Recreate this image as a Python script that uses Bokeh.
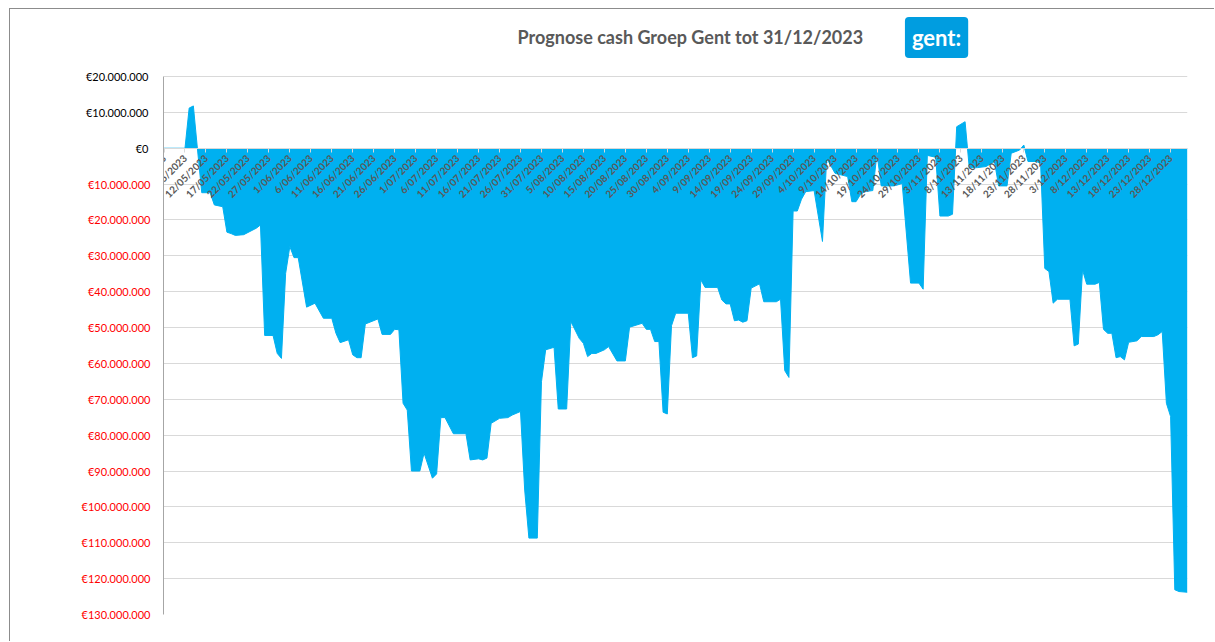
import math
import pandas as pd
from bokeh.plotting import figure
from bokeh.models import Range1d, FixedTicker, LinearAxis, Label, ColumnDataSource
from bokeh.embed import file_html
from bokeh.resources import INLINE

# ---------------- data ----------------
start_date = "2023-05-02"

dates = [
    "2023-05-02", "2023-05-07", "2023-05-08", "2023-05-09", "2023-05-10", "2023-05-11",
    "2023-05-13", "2023-05-14", "2023-05-16", "2023-05-17", "2023-05-18", "2023-05-19",
    "2023-05-21", "2023-05-24", "2023-05-25", "2023-05-26", "2023-05-28", "2023-05-29",
    "2023-05-30", "2023-05-31", "2023-06-01", "2023-06-02", "2023-06-03", "2023-06-05",
    "2023-06-07", "2023-06-09", "2023-06-11", "2023-06-12", "2023-06-13", "2023-06-15",
    "2023-06-16", "2023-06-17", "2023-06-18", "2023-06-19", "2023-06-22", "2023-06-23",
    "2023-06-25", "2023-06-26", "2023-06-27", "2023-06-28", "2023-06-29", "2023-06-30",
    "2023-07-02", "2023-07-03", "2023-07-05", "2023-07-06", "2023-07-07", "2023-07-08",
    "2023-07-10", "2023-07-13", "2023-07-14", "2023-07-16", "2023-07-17", "2023-07-18",
    "2023-07-19", "2023-07-21", "2023-07-23", "2023-07-24", "2023-07-26", "2023-07-27",
    "2023-07-28", "2023-07-30", "2023-07-31", "2023-08-01", "2023-08-03", "2023-08-04",
    "2023-08-06", "2023-08-07", "2023-08-09", "2023-08-10", "2023-08-11", "2023-08-12",
    "2023-08-13", "2023-08-15", "2023-08-16", "2023-08-18", "2023-08-20", "2023-08-21",
    "2023-08-24", "2023-08-25", "2023-08-26", "2023-08-27", "2023-08-28", "2023-08-29",
    "2023-08-30", "2023-08-31", "2023-09-01", "2023-09-04", "2023-09-05", "2023-09-06",
    "2023-09-07", "2023-09-08", "2023-09-11", "2023-09-12", "2023-09-13", "2023-09-14",
    "2023-09-15", "2023-09-16", "2023-09-17", "2023-09-18", "2023-09-19", "2023-09-21",
    "2023-09-22", "2023-09-25", "2023-09-26", "2023-09-27", "2023-09-28", "2023-09-29",
    "2023-09-30", "2023-10-01", "2023-10-02", "2023-10-04", "2023-10-06", "2023-10-07",
    "2023-10-09", "2023-10-12", "2023-10-13", "2023-10-14", "2023-10-15", "2023-10-16",
    "2023-10-18", "2023-10-19", "2023-10-20", "2023-10-23", "2023-10-24", "2023-10-25",
    "2023-10-27", "2023-10-29", "2023-10-30", "2023-10-31", "2023-11-02", "2023-11-03",
    "2023-11-05", "2023-11-06", "2023-11-07", "2023-11-09", "2023-11-10", "2023-11-12",
    "2023-11-14", "2023-11-16", "2023-11-17", "2023-11-19", "2023-11-20", "2023-11-22",
    "2023-11-23", "2023-11-24", "2023-11-26", "2023-11-27", "2023-11-28", "2023-11-29",
    "2023-11-30", "2023-12-01", "2023-12-04", "2023-12-05", "2023-12-06", "2023-12-07",
    "2023-12-08", "2023-12-10", "2023-12-11", "2023-12-12", "2023-12-13", "2023-12-14",
    "2023-12-15", "2023-12-16", "2023-12-17", "2023-12-18", "2023-12-20", "2023-12-21",
    "2023-12-24", "2023-12-25", "2023-12-26", "2023-12-27", "2023-12-28", "2023-12-29",
    "2023-12-30", "2024-01-01",
]

# cash position in millions of euro
cash_meur = [
    0.0, 0.0, 11.2, 11.8, -0.5, -12.4,
    -12.4, -15.8, -16.3, -23.4, -23.8, -24.3,
    -24.1, -22.3, -21.4, -52.2, -52.2, -57.2,
    -58.6, -34.9, -27.4, -30.5, -30.5, -44.3,
    -43.2, -47.4, -47.4, -51.6, -54.2, -53.4,
    -57.6, -58.4, -58.4, -49.0, -47.6, -51.9,
    -51.9, -50.5, -50.6, -71.1, -73.0, -90.0,
    -90.0, -85.0, -92.0, -90.8, -75.1, -75.1,
    -79.6, -79.6, -86.9, -86.6, -86.9, -86.4,
    -76.7, -75.3, -75.1, -74.4, -73.4, -95.3,
    -108.7, -108.7, -65.1, -56.2, -55.5, -72.7,
    -72.7, -48.3, -53.0, -54.4, -58.1, -57.2,
    -57.2, -56.2, -55.3, -59.3, -59.3, -49.9,
    -48.8, -50.5, -50.5, -53.9, -53.9, -73.6,
    -74.1, -49.5, -46.0, -46.0, -58.4, -57.9,
    -36.7, -38.8, -38.8, -42.3, -43.4, -43.4,
    -48.1, -47.9, -48.5, -48.1, -39.0, -37.8,
    -42.8, -42.8, -42.1, -62.0, -63.9, -17.5,
    -17.5, -14.2, -12.1, -11.8, -26.0, -2.8,
    -7.0, -7.9, -14.9, -14.9, -13.0, -12.1,
    -11.8, -1.4, -10.5, -10.5, -10.2, -9.8,
    -37.6, -37.6, -39.3, -2.0, -2.5, -18.9,
    -18.9, -18.4, 6.0, 7.4, -5.5, -5.4,
    -5.1, -3.7, -10.5, -10.5, -1.4, -0.5,
    0.9, -3.7, -3.7, -4.2, -33.5, -34.4,
    -43.2, -42.1, -42.1, -55.1, -54.6, -33.9,
    -37.9, -37.9, -37.4, -50.5, -51.6, -51.6,
    -58.4, -58.1, -59.0, -54.1, -53.7, -52.5,
    -52.5, -52.0, -51.1, -71.1, -74.8, -123.1,
    -123.6, -123.8,
]

# y axis ticks (millions) and their labels
y_ticks = [20, 10, 0, -10, -20, -30, -40, -50, -60, -70, -80, -90, -100, -110, -120, -130]
y_tick_labels = [
    "€20.000.000", "€10.000.000", "€0", "€10.000.000", "€20.000.000", "€30.000.000",
    "€40.000.000", "€50.000.000", "€60.000.000", "€70.000.000", "€80.000.000",
    "€90.000.000", "€100.000.000", "€110.000.000", "€120.000.000", "€130.000.000",
]

# x axis tick dates (every 5 days)
x_tick_dates = pd.date_range("2023-05-02", "2023-12-28", freq="5D")
x_tick_labels = [f"{d.day}/{d.month:02d}/{d.year}" for d in x_tick_dates]

title_text = "Prognose cash Groep Gent tot 31/12/2023"
logo_text = "gent:"

# ---------------- build ----------------
t0 = pd.Timestamp(start_date)
day_index = [(pd.Timestamp(d) - t0).days for d in dates]
x_tick_days = [(d - t0).days for d in x_tick_dates]

src = ColumnDataSource(dict(day=day_index, cash=cash_meur))

Y_MIN, Y_MAX = min(y_ticks), max(y_ticks)
X0, X1 = -0.12, 244.03
TOP = 37.29  # headroom above the top gridline for title and logo

p = figure(width=1205, height=633,
           x_range=Range1d(X0, X1), y_range=Range1d(Y_MIN, TOP),
           output_backend="svg", toolbar_location=None,
           min_border_left=153, min_border_right=28,
           min_border_top=5, min_border_bottom=28)
p.outline_line_color = None
p.background_fill_color = "white"
p.border_fill_color = "white"
p.styles = {"margin-left": "9px", "margin-top": "8px",
            "border-left": "1px solid #8c8c8c", "border-top": "1px solid #8c8c8c"}

p.varea(x="day", y1=0, y2="cash", source=src, fill_color="#00b0f0")
p.line(x="day", y="cash", source=src, line_color="#00b0f0", line_width=1)

# grid
p.xgrid.visible = False
p.ygrid.ticker = FixedTicker(ticks=y_ticks)
p.ygrid.grid_line_color = "#d9d9d9"
p.ygrid.grid_line_width = 1

# x axis at zero
xa = p.xaxis[0]
xa.fixed_location = 0
xa.ticker = FixedTicker(ticks=x_tick_days)
xa.major_label_overrides = {int(d): lab for d, lab in zip(x_tick_days, x_tick_labels)}
xa.major_label_orientation = math.pi / 4
xa.major_label_text_font = "Lato"
xa.major_label_text_font_style = "bold"
xa.major_label_text_font_size = "10px"
xa.major_label_text_color = "#595959"
xa.axis_line_color = "#d9d9d9"
xa.major_tick_line_color = "#d9d9d9"
xa.major_tick_out = 4
xa.major_tick_in = 0
xa.minor_tick_line_color = None
xa.major_label_standoff = 4

neg_ticks = [t for t in y_ticks if t < 0]
pos_ticks = [t for t in y_ticks if t >= 0]
overrides = {t: lab for t, lab in zip(y_ticks, y_tick_labels)}

ya = p.yaxis[0]
ya.bounds = (Y_MIN, Y_MAX)
ya.ticker = FixedTicker(ticks=neg_ticks)
ya.major_label_overrides = {t: overrides[t] for t in neg_ticks}
ya.major_label_text_color = "#ff0000"
ya.major_label_text_font = "Lato"
ya.major_label_text_font_size = "11px"
ya.major_tick_line_color = None
ya.major_tick_out = 0
ya.major_tick_in = 0
ya.minor_tick_line_color = None
ya.minor_tick_out = 0
ya.axis_line_color = "#a6a6a6"
ya.major_label_standoff = 13

ya2 = LinearAxis(ticker=FixedTicker(ticks=pos_ticks),
                 major_label_overrides={t: overrides[t] for t in pos_ticks},
                 major_label_text_color="#000000", major_label_text_font="Lato",
                 major_label_text_font_size="11px", major_tick_line_color=None,
                 major_tick_out=0, major_tick_in=0,
                 minor_tick_line_color=None, minor_tick_out=0, axis_line_color=None,
                 major_label_standoff=-70)
p.add_layout(ya2, "left")

# title and logo
p.add_layout(Label(x=125.5, y=30.9, text=title_text, text_align="center",
                   text_baseline="middle", text_font="Lato", text_font_style="bold",
                   text_font_size="18px", text_color="#595959"))
p.add_layout(Label(x=184.2, y=30.9, text=logo_text, text_align="center",
                   text_baseline="middle", text_font="Lato", text_font_style="bold",
                   text_font_size="22px", text_color="white",
                   background_fill_color="#009de0", border_radius=4, padding=7))

open("out.html", "w").write(file_html(p, INLINE))
